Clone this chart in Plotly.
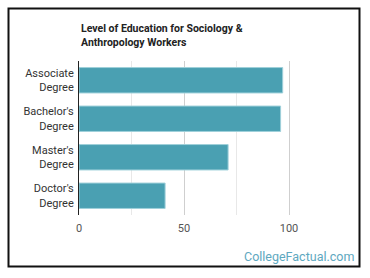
import plotly.graph_objects as go

categories = ["Associate<br>Degree", "Bachelor's<br>Degree", "Master's<br>Degree", "Doctor's<br>Degree"]
values = [97, 96, 71, 41]
x_ticks = [0, 50, 100]
title_text = "Level of Education for Sociology &<br>Anthropology Workers"
watermark = "CollegeFactual.com"

W, H = 370, 278
L, T = 79, 61
PW, PH = 252, 154
R = W - L - PW
B = H - T - PH

def px_x(p):
    return (p - L) / PW

def px_y(p):
    return (T + PH - p) / PH

fig = go.Figure(go.Bar(
    x=values, y=categories, orientation="h",
    marker=dict(color="#4aa0b2", line=dict(color="#9fd0da", width=1)),
    hoverinfo="skip",
))

fig.update_layout(
    width=W, height=H,
    margin=dict(l=L, r=R, t=T, b=B, pad=0),
    paper_bgcolor="white", plot_bgcolor="white",
    showlegend=False,
    bargap=0.34,
    font=dict(family="Roboto", size=11, color="#333"),
    xaxis=dict(
        range=[0, 120], tickvals=x_ticks, ticktext=[str(v) for v in x_ticks],
        showgrid=True, gridcolor="#cfcfcf", gridwidth=1,
        minor=dict(dtick=25, tick0=0, showgrid=True, gridcolor="#e8e8e8", gridwidth=1),
        zeroline=False, showline=False, ticks="",
        tickfont=dict(size=11, color="#555"), ticklabelstandoff=5, fixedrange=True,
    ),
    yaxis=dict(
        autorange="reversed", showgrid=False, zeroline=False,
        showline=True, linecolor="#222", linewidth=1, ticks="",
        tickfont=dict(size=11, color="#333"), ticklabelstandoff=2, fixedrange=True,
    ),
    annotations=[
        dict(text="<b>" + title_text + "</b>", xref="paper", yref="paper",
             x=px_x(79), y=px_y(20), xanchor="left", yanchor="top", showarrow=False,
             align="left", font=dict(family="Roboto", size=10.5, color="#222")),
        dict(text=watermark, xref="paper", yref="paper",
             x=px_x(356), y=px_y(256), xanchor="right", yanchor="middle", showarrow=False,
             font=dict(family="Roboto", size=12.5, color="#5ea8c0")),
    ],
    shapes=[
        dict(type="rect", xref="paper", yref="paper",
             x0=px_x(8.5), x1=px_x(359.5), y0=px_y(266.5), y1=px_y(8.5),
             line=dict(color="#111", width=2), fillcolor="rgba(0,0,0,0)", layer="above"),
    ],
)

fig.write_html("out.html", config={"displayModeBar": False})
